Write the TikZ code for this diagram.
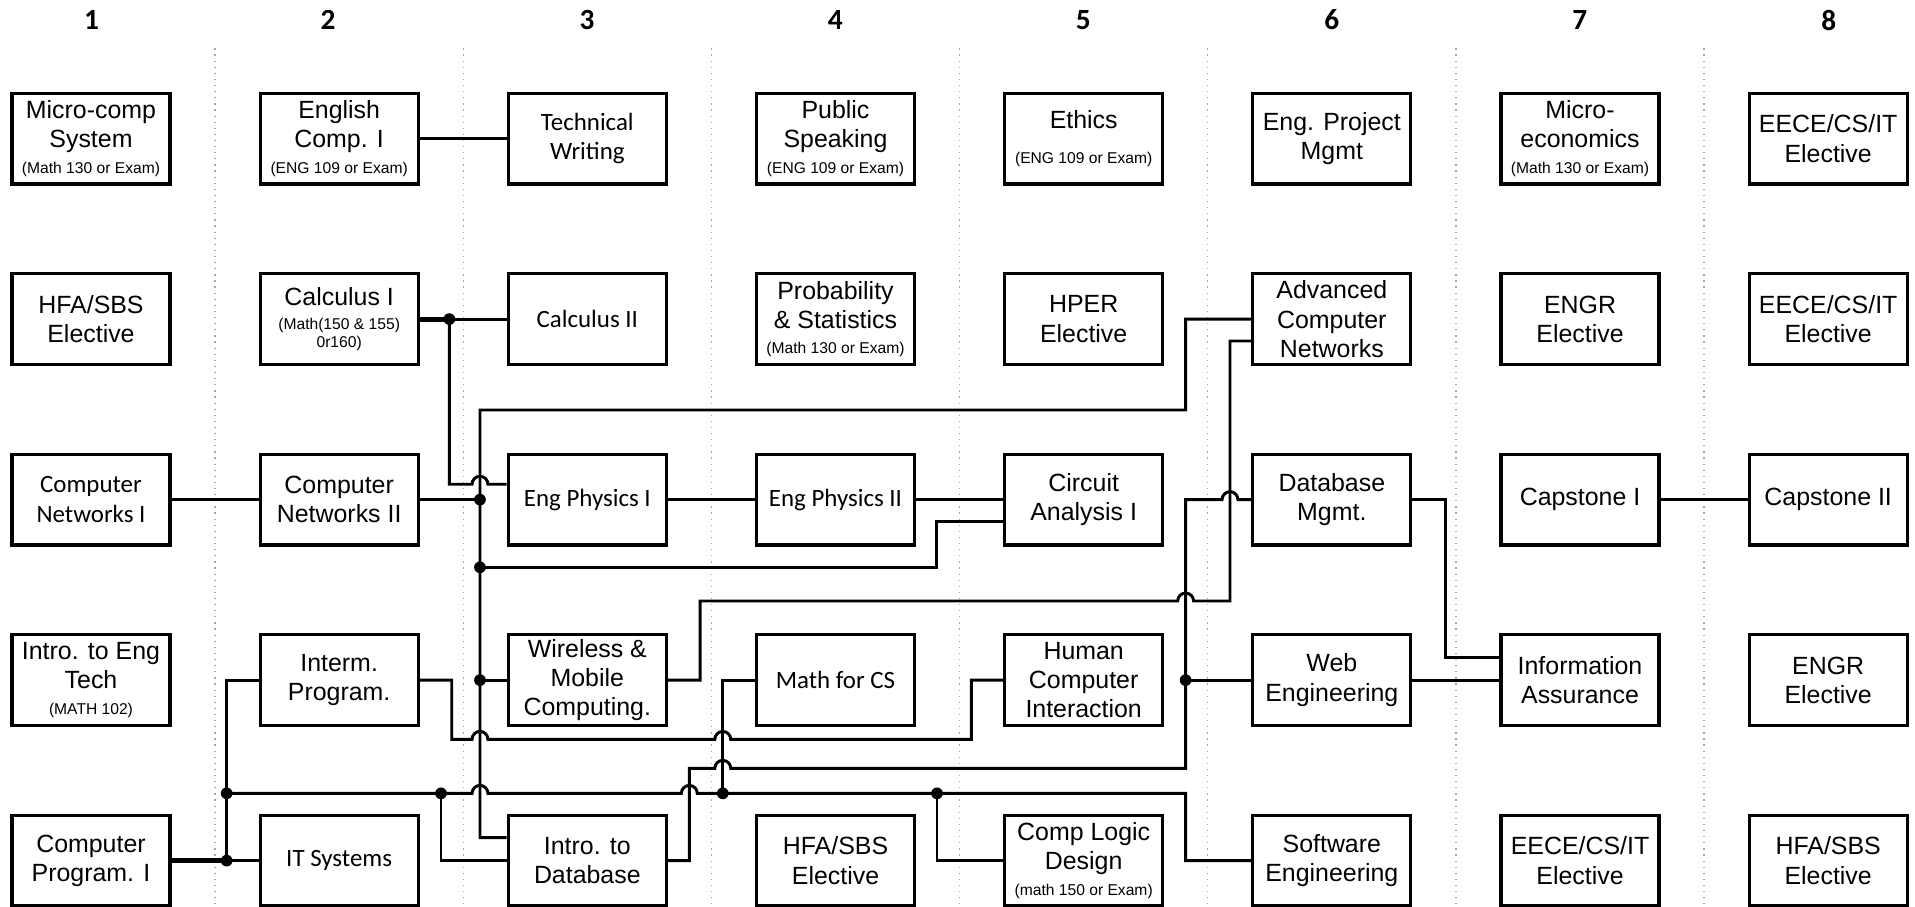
\documentclass[tikz,border=0pt]{standalone}
\usepackage{fontspec}
\setmainfont{Liberation Sans}
\newfontfamily\calfont{Carlito}
\usetikzlibrary{calc}
\newcommand{\prereq}[1]{{\fontsize{6.4}{7.5}\selectfont #1}}

\begin{document}
\begin{tikzpicture}[x=0.5pt,y=0.5pt,line width=1.2pt,
  course/.style={draw,line width=1.3pt,minimum width=64.7pt,minimum height=37.15pt,inner sep=0pt,align=center,font=\fontsize{10.2}{12}\selectfont},
  calcourse/.style={course,font=\calfont\fontsize{10.2}{12}\selectfont},
  colhead/.style={font=\calfont\bfseries\fontsize{12}{14}\selectfont},
  colsep/.style={gray!70,line width=0.5pt,dash pattern=on 0.5pt off 2pt}]
\useasboundingbox (0,0) rectangle (1568,742);

\foreach \x in {176.1,379.3,582.5,785.7,988.9,1192.1,1395.3} {
\draw [colsep] (\x,702.4) -- (\x,0);}
\foreach \n/\x in {1/74.9,2/268.6,3/480.7,4/684,5/887,6/1090.5,7/1293.5,8/1497.5} {
\node [colhead] (h\n) at (\x,725.6) {\n};}

\node [course] (mcs) at (74.5,628.5) {Micro-comp\\System\\[-1.5pt]\prereq{(Math 130 or Exam)}};
\node [course] (ec1) at (277.7,628.5) {English\\Comp. I\\[-1.5pt]\prereq{(ENG 109 or Exam)}};
\node [calcourse] (tw) at (480.9,628.5) {Technical\\Writing};
\node [course] (ps) at (684.1,628.5) {Public\\Speaking\\[-1.5pt]\prereq{(ENG 109 or Exam)}};
\node [course] (eth) at (887.3,628.5) {Ethics\\[2pt]\prereq{(ENG 109 or Exam)}};
\node [course] (epm) at (1090.5,628.5) {Eng. Project\\Mgmt};
\node [course] (mec) at (1293.7,628.5) {Micro-\\economics\\[-1.5pt]\prereq{(Math 130 or Exam)}};
\node [course] (ee1) at (1496.9,628.5) {EECE/CS/IT\\Elective};

\node [course] (hfa1) at (74.5,480.7) {HFA/SBS\\Elective};
\node [course] (cal1) at (277.7,480.7) {Calculus I\\[-2pt]\prereq{(Math(150 \& 155)}\\[-4.5pt]\prereq{0r160)}};
\node [calcourse] (cal2) at (480.9,480.7) {Calculus II};
\node [course] (prob) at (684.1,480.7) {Probability\\\& Statistics\\[-1.5pt]\prereq{(Math 130 or Exam)}};
\node [course] (hper) at (887.3,480.7) {HPER\\Elective};
\node [course] (acn) at (1090.5,480.7) {Advanced\\Computer\\Networks};
\node [course] (engr1) at (1293.7,480.7) {ENGR\\Elective};
\node [course] (ee2) at (1496.9,480.7) {EECE/CS/IT\\Elective};

\node [calcourse] (cn1) at (74.5,332.9) {Computer\\Networks I};
\node [course] (cn2) at (277.7,332.9) {Computer\\Networks II};
\node [calcourse] (ep1) at (480.9,332.9) {Eng Physics I};
\node [calcourse] (ep2) at (684.1,332.9) {Eng Physics II};
\node [course] (ca1) at (887.3,332.9) {Circuit\\Analysis I};
\node [course] (dbm) at (1090.5,332.9) {Database\\Mgmt.};
\node [course] (cap1) at (1293.7,332.9) {Capstone I};
\node [course] (cap2) at (1496.9,332.9) {Capstone II};

\node [course] (iet) at (74.5,185.1) {Intro. to Eng\\Tech\\[-1.5pt]\prereq{(MATH 102)}};
\node [course] (ip) at (277.7,185.1) {Interm.\\Program.};
\node [course] (wmc) at (480.9,185.1) {Wireless \&\\Mobile\\Computing.};
\node [calcourse] (mfcs) at (684.1,185.1) {Math for CS};
\node [course] (hci) at (887.3,185.1) {Human\\Computer\\Interaction};
\node [course] (web) at (1090.5,185.1) {Web\\Engineering};
\node [course] (ia) at (1293.7,185.1) {Information\\Assurance};
\node [course] (engr2) at (1496.9,185.1) {ENGR\\Elective};

\node [course] (cp1) at (74.5,37.3) {Computer\\Program. I};
\node [calcourse] (its) at (277.7,37.3) {IT Systems};
\node [course] (idb) at (480.9,37.3) {Intro. to\\Database};
\node [course] (hfa2) at (684.1,37.3) {HFA/SBS\\Elective};
\node [course] (cld) at (887.3,37.3) {Comp Logic\\Design\\[-1.5pt]\prereq{(math 150 or Exam)}};
\node [course] (swe) at (1090.5,37.3) {Software\\Engineering};
\node [course] (ee3) at (1293.7,37.3) {EECE/CS/IT\\Elective};
\node [course] (hfa3) at (1496.9,37.3) {HFA/SBS\\Elective};

\coordinate (jc) at (367.9,480.7);
\coordinate (jn) at (393,332.9);
\coordinate (jca) at (393,277.5);
\coordinate (jw) at (393,185.1);
\coordinate (jweb) at (970.8,185.1);
\coordinate (jp) at (185.6,37.3);
\coordinate (jb) at (185.6,92.4);
\coordinate (jb2) at (361.1,92.4);
\coordinate (jb3) at (591.8,92.4);
\coordinate (jb4) at (767.2,92.4);

\draw (ec1) -- (tw);
\draw [line width=2pt] (cal1.east) -- (jc);
\draw (jc) -- (cal2.west);
\draw (jc) -- (367.9,345.5) -- (386.5,345.5) arc (180:0:6.5) -- ($(ep1.west)+(0,12.6)$);
\draw (cn1) -- (cn2);
\draw (cn2.east) -- (jn);
\draw (ep1) -- (ep2);
\draw (ep2) -- (ca1);
\draw (cap1) -- (cap2);
\draw (acn.west) -| (970.8,406.3) -| (393,56.1) -- ($(idb.west)+(0,18.8)$);
\draw (jca) -| (767,314.9) -- ($(ca1.west)+(0,-18)$);
\draw (jw) -- (wmc.west);
\draw (wmc.east) -| (573.2,249.9) -- (964.3,249.9) arc (180:0:6.5) -- (1007.1,249.9) |- ($(acn.west)+(0,-17.9)$);
\draw (dbm.west) -- (1013.6,332.9) arc (0:180:6.5) -- (970.8,332.9) -- (970.8,112.9) -- (598.3,112.9) arc (0:180:6.5) -| (564.4,37.3) -- (idb.east);
\draw (jweb) -- (web.west);
\draw (mfcs.west) -| (jb3);
\draw (hci.west) -| (795.4,136.6) -- (598.3,136.6) arc (0:180:6.5) -- (399.5,136.6) arc (0:180:6.5) -- (369.9,136.6) |- (ip.east);
\draw (jb) -- (386.5,92.4) arc (180:0:6.5) -- (557.9,92.4) arc (180:0:6.5) -- (970.8,92.4) |- (swe.west);
\draw (jb2) |- (idb.west);
\draw (jb4) |- (cld.west);
\draw (ip.west) -| (jp);
\draw [line width=2pt] (cp1.east) -- (jp);
\draw (jp) -- (its.west);
\draw (dbm.east) -| (1183.2,203.8) -- ($(ia.west)+(0,18.7)$);
\draw (web) -- (ia);

\foreach \j in {jc,jn,jca,jw,jweb,jp,jb,jb2,jb3,jb4} {
\fill (\j) circle (4.8);}
\end{tikzpicture}
\end{document}
